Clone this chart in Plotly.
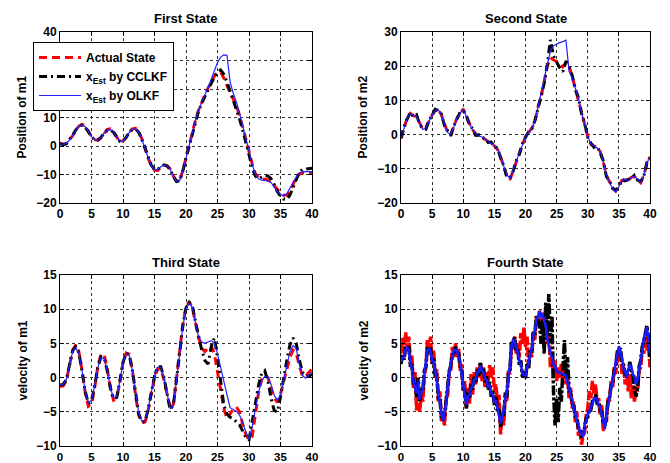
import numpy as np
import plotly.graph_objects as go

# ---------------- data ----------------
t_half = np.linspace(0, 40, 81)      # 0.5 s sampling (states 1-3)
t_quarter = np.linspace(0, 40, 161)  # 0.25 s sampling (state 4)

state1_actual = [1.0, 0.7, 0.8, 2.0, 3.6, 5.5, 7.0, 7.6, 7.0, 5.2,
                 3.3, 2.2, 2.0, 2.8, 4.5, 5.8, 6.0, 5.0, 3.2, 1.4,
                 1.8, 3.0, 4.8, 6.0, 6.2, 5.0, 2.5, -1.0, -4.3, -7.0,
                 -8.5, -8.6, -7.5, -6.8, -7.0, -8.0, -10.5, -12.3, -12.0, -8.6,
                 -4.0, 0.2, 4.6, 9.0, 12.6, 15.5, 18.0, 20.3, 22.5, 24.5,
                 25.8, 26.0, 23.8, 21.0, 18.8, 16.5, 14.0, 10.8, 6.8, 2.6,
                 -1.8, -6.2, -9.6, -11.0, -11.3, -11.8, -12.0, -12.6, -14.0, -15.5,
                 -16.5, -17.3, -17.2, -16.0, -13.5, -11.0, -9.8, -9.5, -9.5, -9.5,
                 -9.4]
state1_cclkf = [0.8, 0.5, 0.8, 2.2, 3.8, 5.6, 7.0, 7.3, 6.6, 5.0,
                3.2, 2.2, 2.1, 3.0, 4.5, 5.5, 5.6, 4.8, 3.0, 1.6,
                1.8, 3.0, 4.8, 5.8, 6.0, 4.8, 2.3, -1.0, -4.2, -6.8,
                -8.2, -8.2, -7.2, -6.6, -7.0, -8.3, -10.8, -12.5, -12.2, -8.8,
                -4.2, 0.0, 4.5, 9.0, 12.3, 15.0, 17.5, 20.0, 22.0, 24.0,
                26.0, 26.7, 25.2, 22.5, 19.3, 16.2, 13.0, 9.5, 5.5, 1.5,
                -3.0, -7.5, -10.5, -11.5, -11.0, -10.4, -10.5, -11.5, -13.5, -16.0,
                -17.6, -18.6, -18.8, -17.2, -14.5, -11.5, -9.2, -8.2, -8.0, -7.9,
                -7.8]
state1_olkf = [0.8, 0.6, 0.9, 2.1, 3.7, 5.5, 6.9, 7.4, 6.8, 5.1,
               3.3, 2.2, 2.1, 2.9, 4.5, 5.6, 5.8, 4.9, 3.1, 1.5,
               1.8, 3.0, 4.8, 5.9, 6.1, 4.9, 2.4, -1.0, -4.2, -6.9,
               -8.3, -8.3, -7.3, -6.7, -7.0, -8.2, -10.7, -12.4, -12.1, -8.7,
               -4.1, 0.1, 4.6, 9.0, 12.5, 15.5, 18.0, 20.5, 23.5, 26.5,
               29.3, 31.2, 32.0, 31.8, 22.5, 18.5, 15.5, 11.5, 7.0, 2.6,
               -1.8, -6.3, -9.8, -11.5, -12.0, -12.0, -12.2, -12.8, -14.5, -16.0,
               -17.0, -17.5, -16.8, -15.0, -12.8, -10.8, -9.5, -9.0, -9.0, -9.0,
               -9.0]

state2_actual = [-1.2, 2.0, 5.0, 6.2, 5.5, 5.3, 3.3, 1.5, 2.0, 4.0,
                 5.8, 7.2, 7.4, 5.7, 2.8, 0.6, 0.0, 2.3, 4.9, 6.2,
                 7.5, 5.2, 3.2, 1.4, 0.2, -0.4, -0.7, -1.3, -2.0, -2.5,
                 -3.3, -4.3, -6.5, -9.3, -12.0, -13.2, -10.5, -8.0, -5.6, -3.0,
                 -0.6, 0.5, 1.8, 3.7, 8.0, 11.0, 15.5, 20.0, 22.5, 21.8,
                 21.4, 20.5, 19.8, 21.0, 20.0, 17.0, 13.5, 10.6, 6.5, 3.0,
                 -0.5, -2.8, -3.4, -3.8, -5.0, -8.0, -12.0, -13.8, -15.5, -16.5,
                 -15.0, -13.4, -13.2, -13.5, -12.5, -12.2, -13.0, -14.0, -12.0, -8.5,
                 -6.5]
state2_cclkf = [-1.0, 2.3, 4.6, 6.5, 5.2, 5.8, 3.0, 1.8, 1.6, 4.3,
                5.5, 7.4, 7.0, 6.0, 2.5, 0.9, -0.3, 2.6, 4.5, 6.6,
                7.0, 5.6, 2.8, 1.8, -0.2, -0.1, -1.1, -1.0, -2.3, -2.2,
                -3.6, -3.9, -6.8, -9.0, -12.5, -12.6, -10.8, -7.6, -5.8, -2.7,
                -0.8, 0.8, 1.5, 4.0, 7.6, 11.5, 15.0, 20.5, 27.7, 23.0,
                21.0, 19.5, 18.4, 21.5, 19.8, 17.3, 13.2, 10.9, 6.2, 3.3,
                -0.8, -2.5, -3.7, -3.5, -5.3, -7.7, -12.3, -13.5, -15.8, -16.3,
                -15.3, -13.1, -13.5, -13.2, -12.8, -11.9, -13.3, -13.7, -12.3, -8.2,
                -6.8]
state2_olkf = [-1.2, 2.1, 4.9, 6.1, 5.6, 5.2, 3.4, 1.5, 2.0, 4.1,
               5.7, 7.1, 7.3, 5.8, 2.8, 0.6, 0.1, 2.3, 4.8, 6.3,
               7.4, 5.3, 3.1, 1.5, 0.2, -0.4, -0.7, -1.3, -2.0, -2.5,
               -3.3, -4.2, -6.4, -9.2, -11.8, -12.8, -10.3, -7.8, -5.5, -3.0,
               -0.6, 0.6, 1.8, 3.8, 8.0, 11.2, 15.6, 20.4, 24.5, 26.0,
               26.5, 26.9, 27.2, 27.6, 18.5, 16.5, 13.5, 10.6, 6.5, 3.0,
               -0.5, -2.8, -3.4, -3.8, -5.0, -8.0, -12.0, -14.0, -15.8, -16.8,
               -15.2, -13.4, -13.2, -13.6, -12.4, -12.3, -13.0, -13.9, -12.0, -8.3,
               -6.6]

state3_actual = [-1.3, -1.2, -0.5, 1.8, 4.0, 4.8, 3.8, 1.0, -2.2, -4.2,
                 -3.9, -1.5, 1.6, 3.4, 3.4, 1.3, -1.5, -3.3, -3.0, -0.7,
                 2.2, 3.6, 3.4, 1.0, -2.7, -5.5, -6.6, -6.5, -4.8, -2.3,
                 0.0, 1.3, 1.2, -0.3, -2.7, -4.6, -3.9, -0.2, 3.8, 7.8,
                 10.3, 11.1, 10.3, 8.0, 5.8, 4.3, 3.8, 4.3, 4.7, 3.5,
                 1.0, -1.5, -4.5, -6.0, -5.3, -4.6, -4.3, -5.0, -6.8, -8.3,
                 -9.1, -8.6, -5.5, -2.3, -0.3, 0.4, 0.0, -1.5, -3.0, -3.6,
                 -2.4, -0.6, 1.3, 3.0, 4.0, 3.6, 1.7, 0.2, 0.2, 0.8,
                 1.3]
state3_cclkf = [-1.1, -1.0, -0.3, 1.8, 3.9, 4.5, 3.6, 1.0, -2.0, -3.8,
                -3.4, -1.2, 1.5, 3.0, 2.9, 1.0, -1.5, -3.1, -2.9, -0.5,
                2.2, 3.6, 3.3, 1.0, -2.5, -5.3, -6.5, -6.4, -4.6, -2.0,
                0.2, 1.6, 1.6, 0.0, -2.6, -4.7, -4.0, -0.5, 3.6, 7.6,
                10.2, 11.0, 10.5, 8.2, 6.0, 4.0, 2.5, 2.0, 4.5, 5.8,
                3.0, -0.5, -4.0, -5.3, -5.8, -6.0, -6.4, -6.9, -7.8, -8.8,
                -9.1, -6.5, -3.5, -1.2, 0.6, 1.0, -0.5, -3.0, -4.8, -5.0,
                -2.8, 0.0, 2.5, 4.8, 5.8, 5.0, 2.5, 0.8, 0.2, 0.2,
                0.5]
state3_olkf = [-1.1, -1.0, -0.3, 1.8, 3.8, 4.4, 3.5, 1.0, -2.0, -3.7,
               -3.3, -1.2, 1.5, 2.9, 2.8, 1.0, -1.5, -3.0, -2.8, -0.5,
               2.2, 3.5, 3.2, 1.0, -2.5, -5.2, -6.4, -6.3, -4.5, -2.0,
               0.2, 1.5, 1.5, 0.0, -2.5, -4.6, -4.0, -0.5, 3.5, 7.5,
               10.0, 10.9, 10.3, 8.0, 6.0, 5.2, 5.0, 5.2, 5.4, 5.0,
               3.5, 1.5, -0.3, -2.5, -4.4, -4.7, -4.9, -5.5, -6.5, -8.0,
               -9.0, -7.2, -4.5, -2.2, -0.5, 0.2, 0.2, -1.0, -2.6, -3.3,
               -2.5, -0.5, 1.8, 3.8, 4.7, 4.2, 2.0, 0.3, -0.1, 0.3,
               0.8]

state4_actual = [3.5, 5.8, 3.8, 6.6, 4.2, 6.0, 2.5, 3.3,
                 -1.5, 0.8, -4.8, -1.8, -5.0, -2.6, -3.5, 0.2,
                 1.5, 5.5, 3.5, 6.0, 2.0, 4.0, 0.0, 1.2,
                 -3.5, -2.0, -6.5, -5.2, -7.0, -3.0, -2.5, 1.0,
                 1.2, 4.5, 3.0, 5.0, 3.0, 4.2, 1.0, 2.0,
                 -2.0, -0.5, -4.5, -1.5, -3.8, 0.5, -2.5, 0.8,
                 -1.0, 1.5, 0.0, 2.0, -0.5, 1.5, -1.5, 0.8,
                 -0.5, 1.8, 0.0, 1.5, -2.0, -1.0, -4.0, -2.5,
                 -8.3, -5.0, -7.0, -2.5, -3.5, 1.0, 0.5, 5.0,
                 4.0, 6.0, 3.5, 5.0, 3.0, 6.5, 5.0, 7.3,
                 4.5, 6.0, 1.5, 4.0, 3.0, 6.5, 5.5, 9.0,
                 7.5, 9.8, 8.0, 9.5, 7.0, 9.8, 5.0, 6.5,
                 1.5, 3.5, 0.0, 2.5, -0.5, 1.5, 0.0, 2.0,
                 -0.5, 1.5, -1.0, 0.0, -3.0, -1.5, -4.5, -3.5,
                 -6.5, -5.0, -8.5, -7.5, -9.8, -8.5, -8.0, -5.5,
                 -4.5, -2.0, -3.0, -0.5, -2.5, -1.0, -3.5, -3.0,
                 -5.5, -4.0, -7.8, -6.0, -6.5, -3.0, -3.5, -0.5,
                 -1.5, 1.5, 0.5, 3.0, 2.5, 4.0, 0.5, 2.0,
                 -1.0, 1.0, -2.0, 0.5, -3.0, -1.0, -3.5, -1.5,
                 -2.0, 1.0, 1.5, 4.0, 3.5, 6.0, 4.0, 5.0,
                 1.5]
state4_cclkf = [2.0, 3.3, 2.6, 4.5, 4.0, 4.6, 1.8, 1.8,
                -1.0, -0.8, -2.8, 0.0, -3.6, -1.6, -2.0, 1.0,
                1.6, 4.4, 3.7, 4.4, 2.0, 2.8, 0.3, 0.3,
                -3.0, -3.0, -5.8, -6.0, -5.5, -3.2, -1.7, 0.9,
                1.8, 3.3, 3.6, 4.5, 3.5, 3.5, 1.8, 0.9,
                -1.7, -1.9, -4.5, -2.2, -3.1, -1.0, -1.8, 0.2,
                -0.7, 1.2, 0.3, 2.3, 0.5, 1.3, -0.7, 0.2,
                -1.8, -0.6, -2.8, -2.0, -4.0, -2.8, -5.0, -4.6,
                -7.2, -5.2, -5.3, -2.5, -2.6, 0.5, 1.2, 5.0,
                5.0, 5.9, 3.8, 4.3, 1.8, 2.5, 0.1, 0.9,
                -0.2, 2.0, 1.4, 4.0, 3.7, 6.7, 6.3, 9.0,
                8.3, 8.0, 5.0, 8.5, 3.5, 11.0, 6.0, 12.2,
                5.0, 9.0, -2.0, -7.0, -3.0, -6.5, -1.5, -3.5,
                1.0, 5.5, 0.0, 3.0, -1.8, -2.2, -3.8, -4.2,
                -5.7, -6.0, -7.3, -7.5, -8.8, -8.1, -7.3, -5.9,
                -5.8, -4.6, -4.7, -3.5, -3.5, -2.5, -3.7, -3.6,
                -4.8, -5.0, -6.8, -7.0, -5.8, -3.5, -2.9, -1.2,
                -0.8, 1.1, 1.9, 3.8, 4.1, 4.3, 2.3, 1.8,
                0.5, 0.4, 0.7, 2.3, 1.1, 0.2, -1.5, -2.8,
                -1.5, 1.6, 2.5, 4.5, 5.3, 6.8, 7.6, 5.8,
                3.0]
state4_olkf = [2.3, 2.9, 3.0, 4.1, 4.5, 4.0, 2.2, 1.3,
               -0.6, -1.5, -2.3, -0.5, -3.2, -2.2, -1.6, 0.5,
               2.0, 4.0, 4.2, 3.8, 2.5, 2.3, 0.8, -0.3,
               -2.5, -3.5, -5.3, -6.4, -5.0, -3.8, -1.2, 0.3,
               2.3, 2.8, 4.1, 4.0, 4.0, 3.0, 2.3, 0.4,
               -1.2, -2.4, -4.0, -2.7, -2.6, -1.5, -1.3, -0.3,
               -0.2, 0.7, 0.8, 1.8, 1.0, 0.8, -0.2, -0.3,
               -1.3, -1.1, -2.3, -2.5, -3.5, -3.3, -4.5, -5.2,
               -6.7, -5.7, -4.8, -3.0, -2.1, 0.0, 1.7, 4.5,
               5.5, 5.4, 4.3, 3.8, 2.3, 2.0, 0.6, 0.4,
               0.3, 1.5, 1.9, 3.5, 4.2, 6.2, 6.8, 8.5,
               8.8, 9.7, 9.0, 9.2, 8.3, 7.5, 5.8, 4.7,
               3.4, 3.0, 1.9, 1.6, 0.9, 0.8, 0.7, 0.6,
               0.6, 0.5, 0.3, -0.7, -1.4, -2.7, -3.3, -4.6,
               -5.2, -6.5, -6.8, -8.0, -8.3, -8.6, -6.8, -6.4,
               -5.3, -5.1, -4.2, -4.0, -3.0, -3.0, -3.2, -4.1,
               -4.3, -5.5, -6.3, -7.5, -5.3, -4.0, -2.4, -1.7,
               -0.3, 0.6, 2.4, 3.3, 4.6, 3.8, 2.8, 1.3,
               1.0, -0.1, 1.2, 1.8, 1.6, 0.4, 0.2, -1.0,
               -0.3, 1.1, 3.0, 4.0, 5.8, 6.3, 7.4, 5.3,
               3.5]

panel_titles = ["First State", "Second State", "Third State", "Fourth State"]
y_titles = ["Position of m1", "Position of m2", "velocity of m1", "velocity of m2"]
y_ranges = [[-20, 40], [-20, 30], [-10, 15], [-10, 15]]
series_names = ["Actual State", "x<sub>Est</sub> by CCLKF", "x<sub>Est</sub> by OLKF"]

panels = [
    (t_half, state1_actual, state1_cclkf, state1_olkf),
    (t_half, state2_actual, state2_cclkf, state2_olkf),
    (t_half, state3_actual, state3_cclkf, state3_olkf),
    (t_quarter, state4_actual, state4_cclkf, state4_olkf),
]

# ---------------- layout geometry (pixels) ----------------
W, H = 670, 463
x_doms_px = [(60, 312), (401, 650), (60, 312), (401, 650)]
y_doms_px = [(32, 203), (32, 203), (275, 446), (275, 446)]
title_y_px = [18, 18, 262, 262]
ylab_x_px = [21, 362, 22, 363]

FONT = "Liberation Sans, Arial, Helvetica, sans-serif"

fig = go.Figure()
styles = [
    dict(color="#ff0000", width=3, dash="8px,5px"),
    dict(color="#000000", width=3, dash="8px,4px,2px,4px"),
    dict(color="#2222ff", width=1.2),
]

for i, (tt, a, c, o) in enumerate(panels):
    ax = "" if i == 0 else str(i + 1)
    for j, ys in enumerate([a, c, o]):
        st = dict(styles[j])
        if i == 3:
            if j == 0:
                st["dash"] = "10px,2px"
                st["width"] = 3.5
            elif j == 1:
                st["dash"] = "10px,2px,3px,2px"
                st["width"] = 3.5
            else:
                st["width"] = 2.6
                st["color"] = "#1a1aff"
        fig.add_trace(go.Scatter(
            x=tt, y=ys, mode="lines", name=series_names[j],
            line=st, showlegend=(i == 0),
            xaxis="x" + ax, yaxis="y" + ax,
        ))

axis_common = dict(
    showline=True, linecolor="black", linewidth=1, mirror="ticks",
    ticks="inside", ticklen=4, tickcolor="black",
    showgrid=True, gridcolor="#333333", gridwidth=1, griddash="dot",
    zeroline=False, automargin=False,
    tickfont=dict(family=FONT, size=12, color="black", weight="bold"),
)

layout = dict(
    width=W, height=H, margin=dict(l=0, r=0, t=0, b=0, autoexpand=False),
    paper_bgcolor="white", plot_bgcolor="white",
    font=dict(family=FONT, color="black"),
    legend=dict(
        x=33 / W, y=1 - 42 / H, xanchor="left", yanchor="top",
        bgcolor="white", bordercolor="black", borderwidth=1,
        font=dict(family=FONT, size=12, color="black", weight="bold"),
        itemwidth=42, tracegroupgap=0,
    ),
    annotations=[],
)

for i in range(4):
    ax = "" if i == 0 else str(i + 1)
    x0, x1 = x_doms_px[i]
    y0, y1 = y_doms_px[i]
    xa = dict(
        axis_common, domain=[x0 / W, x1 / W], range=[0, 40],
        tick0=0, dtick=5, anchor="y" + ax,
    )
    if i >= 2:
        xa["tickfont"] = dict(family=FONT, size=11.5, color="black", weight="bold")
    layout["xaxis" + ax] = xa
    layout["yaxis" + ax] = dict(
        axis_common, domain=[1 - y1 / H, 1 - y0 / H], range=y_ranges[i],
        tick0=y_ranges[i][0], dtick=(10 if i < 2 else 5), anchor="x" + ax,
    )
    layout["annotations"].append(dict(
        text=panel_titles[i], x=(x0 + x1) / 2 / W, y=1 - title_y_px[i] / H,
        xref="paper", yref="paper", showarrow=False,
        xanchor="center", yanchor="middle",
        font=dict(family=FONT, size=13, color="black", weight="bold"),
    ))
    layout["annotations"].append(dict(
        text=y_titles[i], x=ylab_x_px[i] / W, y=1 - (y0 + y1) / 2 / H,
        xref="paper", yref="paper", showarrow=False, textangle=-90,
        xanchor="center", yanchor="middle",
        font=dict(family=FONT, size=12, color="black", weight="bold"),
    ))

fig.update_layout(layout)
fig.write_html(
    "out.html",
    config={"displayModeBar": False},
    post_script="document.body.style.margin='0';document.body.style.overflow='hidden';",
)
